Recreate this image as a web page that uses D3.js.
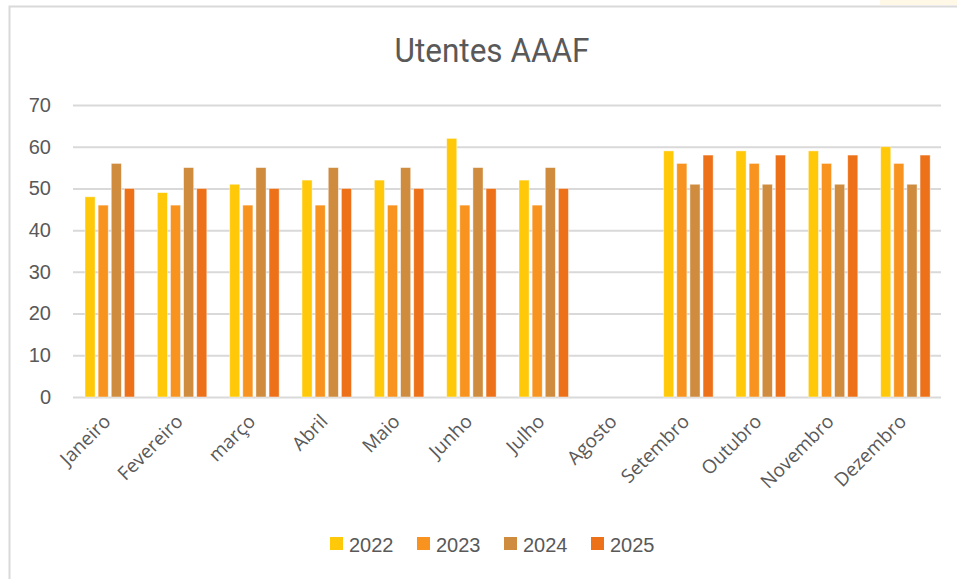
<!DOCTYPE html>
<html lang="pt">
<head>
  <meta charset="UTF-8">
  <title>Utentes AAAF</title>
  <script src="https://d3js.org/d3.v7.min.js"></script>
  <style>
    body {
      margin: 0;
      padding: 0;
      background: #fff;
    }
    svg text {
      fill: #595959;
    }
  </style>
</head>
<body>
  <div id="chart"></div>

  <script>
    const months = ["Janeiro", "Fevereiro", "março", "Abril", "Maio", "Junho",
      "Julho", "Agosto", "Setembro", "Outubro", "Novembro", "Dezembro"];
    const years = ["2022", "2023", "2024", "2025"];
    const colors = ["#ffc90a", "#f7931e", "#cf8b3e", "#ec7118"];

    // null = no value (Agosto)
    const v2022 = [48, 49, 51, 52, 52, 62, 52, null, 59, 59, 59, 60];
    const v2023 = [46, 46, 46, 46, 46, 46, 46, null, 56, 56, 56, 56];
    const v2024 = [56, 55, 55, 55, 55, 55, 55, null, 51, 51, 51, 51];
    const v2025 = [50, 50, 50, 50, 50, 50, 50, null, 58, 58, 58, 58];
    const yTicks = [0, 10, 20, 30, 40, 50, 60, 70];

    const series = [v2022, v2023, v2024, v2025];
    const rows = [];
    months.forEach((m, i) => {
      years.forEach((yr, j) => {
        if (series[j][i] != null) rows.push({ month: m, year: yr, value: series[j][i] });
      });
    });

    const W = 957, H = 579;
    const plot = { left: 73, right: 941, top: 105, bottom: 397 };

    const svg = d3.select("#chart")
      .append("svg")
      .attr("width", W)
      .attr("height", H);

    // chart frame
    svg.append("rect")
      .attr("x", 880).attr("y", 0).attr("width", 77).attr("height", 5)
      .attr("fill", "#fff8e6");
    svg.append("path")
      .attr("d", `M9.5,${H} V6.5 H${W}`)
      .attr("fill", "none")
      .attr("stroke", "#d9d9d9")
      .attr("stroke-width", 2);

    svg.append("text")
      .attr("x", 492)
      .attr("y", 62)
      .attr("text-anchor", "middle")
      .attr("font-family", "Roboto, sans-serif")
      .attr("font-size", 33)
      .attr("textLength", 195)
      .attr("lengthAdjust", "spacingAndGlyphs")
      .text("Utentes AAAF");

    const x = d3.scaleBand()
      .domain(months)
      .range([plot.left, plot.right]);

    const xi = d3.scaleBand()
      .domain(years)
      .range([x.bandwidth() * 0.166, x.bandwidth() * 0.85])
      .paddingInner(0.23);

    const y = d3.scaleLinear()
      .domain([0, 70])
      .range([plot.bottom, plot.top]);

    const color = d3.scaleOrdinal().domain(years).range(colors);

    // gridlines + y labels
    const yAxis = svg.append("g")
      .attr("transform", `translate(${plot.left},0)`)
      .call(d3.axisLeft(y).tickValues(yTicks).tickSize(-(plot.right - plot.left)).tickPadding(22));
    yAxis.select(".domain").remove();
    yAxis.selectAll(".tick line")
      .attr("stroke", "#d9d9d9")
      .attr("stroke-width", 2);
    yAxis.selectAll(".tick text")
      .attr("font-family", "'Liberation Sans', Arial, sans-serif")
      .attr("font-size", 20)
      .attr("fill", "#595959");

    // bars
    svg.append("g")
      .selectAll("rect")
      .data(rows)
      .join("rect")
      .attr("x", d => x(d.month) + xi(d.year))
      .attr("y", d => y(d.value))
      .attr("width", xi.bandwidth())
      .attr("height", d => y(0) - y(d.value))
      .attr("fill", d => color(d.year))
      .attr("stroke", "#fff")
      .attr("stroke-opacity", 0.55)
      .attr("stroke-width", 0.8);

    // x labels
    const xAxis = svg.append("g")
      .attr("transform", `translate(0,${plot.bottom})`)
      .call(d3.axisBottom(x).tickSize(0).tickPadding(0));
    xAxis.select(".domain").remove();
    xAxis.selectAll(".tick text")
      .attr("font-family", "'Open Sans', sans-serif")
      .attr("font-size", 19)
      .attr("fill", "#595959")
      .attr("text-anchor", "end")
      .attr("dy", "0.35em")
      .attr("transform", "translate(-2,21) rotate(-45)");

    // legend
    const legend = svg.append("g")
      .selectAll("g")
      .data(years)
      .join("g")
      .attr("transform", (d, i) => `translate(${330 + i * 87},537)`);
    legend.append("rect")
      .attr("width", 13)
      .attr("height", 13)
      .attr("fill", d => color(d));
    legend.append("text")
      .attr("x", 19)
      .attr("y", 14.5)
      .attr("font-family", "'Liberation Sans', Arial, sans-serif")
      .attr("font-size", 20)
      .text(d => d);
  </script>
</body>
</html>
